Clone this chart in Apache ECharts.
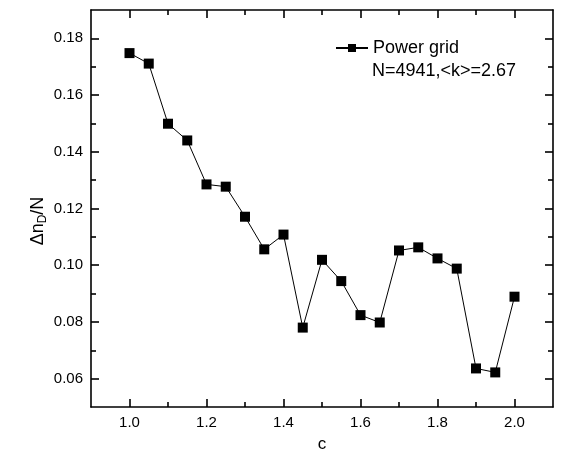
<!DOCTYPE html>
<html>
<head>
<meta charset="utf-8">
<script src="https://cdn.jsdelivr.net/npm/echarts@6/dist/echarts.min.js"></script>
<style>html,body{margin:0;padding:0;background:#fff}#c{width:575px;height:458px}</style>
</head>
<body>
<div id="c"></div>
<script>
const cValues = [1.00,1.05,1.10,1.15,1.20,1.25,1.30,1.35,1.40,1.45,1.50,1.55,1.60,1.65,1.70,1.75,1.80,1.85,1.90,1.95,2.00];
const dnValues = [0.1748,0.1711,0.1499,0.1440,0.1285,0.1277,0.1171,0.1056,0.1108,0.0780,0.1019,0.0944,0.0824,0.0798,0.1052,0.1063,0.1024,0.0988,0.0636,0.0622,0.0889];
const xMajorTicks = [1.0,1.2,1.4,1.6,1.8,2.0];
const xMinorTicks = [1.1,1.3,1.5,1.7,1.9];
const yMajorTicks = [0.06,0.08,0.10,0.12,0.14,0.16,0.18];
const yMinorTicks = [0.07,0.09,0.11,0.13,0.15,0.17];
const seriesName = 'Power grid';
const legendLine2 = 'N=4941,<k>=2.67';

const font = 'Liberation Sans, Arial, sans-serif';
const LW = 1.6;
function mkAxis(kind, pos, major, minor, showLine, showLabel, extra) {
  const isX = kind === 'x';
  const base = {
    type: 'value',
    min: isX ? 0.9 : 0.05,
    max: isX ? 2.1 : 0.19,
    position: pos,
    axisLine: {show: showLine, onZero: false, lineStyle: {color: '#000', width: LW}},
    axisTick: {show: true, inside: true, length: major ? 8 : 5, customValues: major ? (isX ? xMajorTicks : yMajorTicks) : (isX ? xMinorTicks : yMinorTicks),
      lineStyle: {color: '#000', width: LW}},
    axisLabel: showLabel ? {show: true, customValues: isX ? xMajorTicks : yMajorTicks, margin: 8, fontFamily: font, fontSize: 15, color: '#000',
      formatter: v => isX ? v.toFixed(1) : v.toFixed(2)} : {show: false},
    splitLine: {show: false},
    minorTick: {show: false}
  };
  return Object.assign(base, extra || {});
}
const chart = echarts.init(document.getElementById('c'));
chart.setOption({
  animation: false,
  backgroundColor: '#fff',
  grid: {left: 91, right: 22, top: 10, bottom: 50, containLabel: false},
  legend: {
    data: [seriesName], left: 330, top: 34, itemWidth: 32, itemHeight: 10,
    textStyle: {fontFamily: font, fontSize: 18, color: '#000'}
  },
  graphic: [
    {type: 'text', left: 372, top: 62, style: {text: legendLine2, fontFamily: font, fontSize: 18, fill: '#000'}},
    {type: 'text', x: 38, y: 221, rotation: Math.PI / 2,
      style: {text: '{a|Δn}{s|D}{a|/N}', align: 'center', verticalAlign: 'middle',
        rich: {a: {fontFamily: font, fontSize: 18, fill: '#000', lineHeight: 22},
               s: {fontFamily: font, fontSize: 12, fill: '#000', lineHeight: 22, padding: [10, 0, 0, 0]}}}}
  ],
  xAxis: [
    mkAxis('x', 'bottom', true, true, true, true, {name: 'c', nameLocation: 'middle', nameGap: 29,
      nameTextStyle: {fontFamily: font, fontSize: 17, color: '#000'}}),
    mkAxis('x', 'bottom', false, false, false, false),
    mkAxis('x', 'top', true, true, true, false),
    mkAxis('x', 'top', false, false, false, false)
  ],
  yAxis: [
    mkAxis('y', 'left', true, true, true, true),
    mkAxis('y', 'left', false, false, false, false),
    mkAxis('y', 'right', true, true, true, false),
    mkAxis('y', 'right', false, false, false, false)
  ],
  series: [{
    name: seriesName, type: 'line', xAxisIndex: 0, yAxisIndex: 0,
    data: cValues.map((c, i) => [c, dnValues[i]]),
    symbol: 'rect', symbolSize: 10, showSymbol: true,
    itemStyle: {color: '#000'}, lineStyle: {color: '#000', width: 1}
  }]
});
</script>
</body>
</html>
